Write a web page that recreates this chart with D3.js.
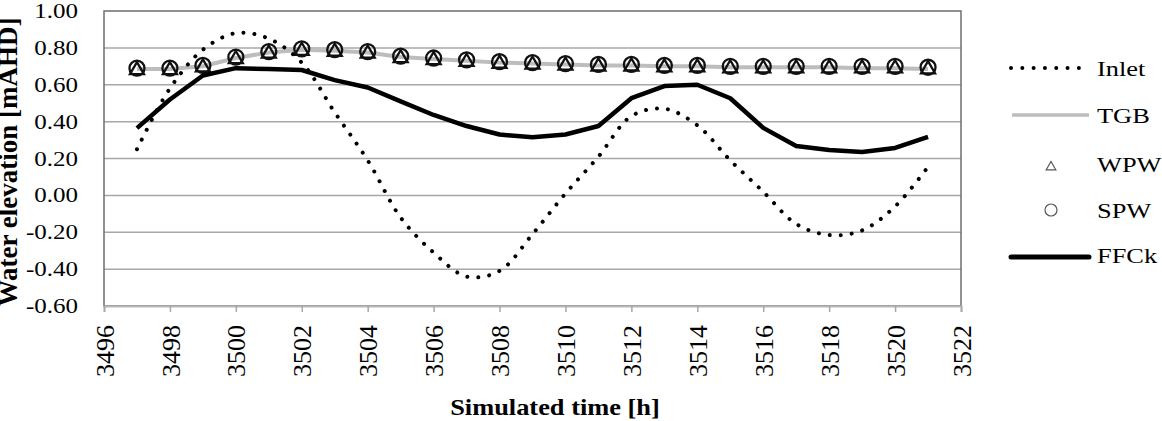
<!DOCTYPE html>
<html>
<head>
<meta charset="utf-8">
<script src="https://cdn.jsdelivr.net/npm/d3@7"></script>
<style>
  body { margin: 0; background: #fff; }
  svg text { font-family: "Liberation Serif", Tinos, "Times New Roman", Times, "DejaVu Serif", serif; fill: #000; }
</style>
</head>
<body>
<div id="chart"></div>
<script>
  // hourly samples
  var hours = d3.range(3497, 3522);

  var inlet = [0.25, 0.58, 0.79, 0.88, 0.85, 0.72, 0.45, 0.19, -0.12, -0.31, -0.44, -0.41, -0.21,
               0.01, 0.21, 0.43, 0.47, 0.38, 0.19, 0.02, -0.155, -0.215, -0.19, -0.06, 0.155];
  var tgb = [0.685, 0.685, 0.70, 0.745, 0.775, 0.79, 0.785, 0.775, 0.75, 0.74, 0.73, 0.72, 0.715,
             0.71, 0.705, 0.705, 0.70, 0.70, 0.695, 0.695, 0.695, 0.695, 0.69, 0.69, 0.685];
  var wpw = [0.69, 0.69, 0.705, 0.75, 0.78, 0.795, 0.79, 0.78, 0.755, 0.745, 0.735, 0.725, 0.72,
             0.715, 0.71, 0.71, 0.705, 0.705, 0.70, 0.70, 0.70, 0.70, 0.70, 0.70, 0.695];
  var spw = [0.69, 0.69, 0.705, 0.75, 0.78, 0.795, 0.79, 0.78, 0.755, 0.745, 0.735, 0.725, 0.72,
             0.715, 0.71, 0.71, 0.705, 0.705, 0.70, 0.70, 0.70, 0.70, 0.70, 0.70, 0.695];
  var ffck = [0.365, 0.52, 0.65, 0.69, 0.685, 0.68, 0.625, 0.585, 0.51, 0.436, 0.376, 0.33, 0.315,
              0.33, 0.376, 0.527, 0.593, 0.60, 0.527, 0.366, 0.268, 0.246, 0.235, 0.257, 0.317];

  var yTicks = [1.0, 0.8, 0.6, 0.4, 0.2, 0.0, -0.2, -0.4, -0.6];
  var xTicks = d3.range(3496, 3523, 2);
  var legendNames = ["Inlet", "TGB", "WPW", "SPW", "FFCk"];

  var width = 1162, height = 421;
  var plotL = 104, plotR = 961, plotT = 11, plotB = 306;

  var x = d3.scaleLinear().domain([3496, 3522]).range([plotL, plotR]);
  var y = d3.scaleLinear().domain([-0.6, 1.0]).range([plotB, plotT]);

  var svg = d3.select("#chart").append("svg")
    .attr("width", width)
    .attr("height", height);

  /* grid */
  svg.append("g").selectAll("line")
    .data(yTicks.slice(1, -1)).enter()
    .append("line")
    .attr("x1", plotL).attr("x2", plotR)
    .attr("y1", d => y(d)).attr("y2", d => y(d))
    .style("stroke", "#a8a8a8")
    .style("stroke-width", 1.5);

  /* plot frame */
  svg.append("rect")
    .attr("x", plotL).attr("y", plotT)
    .attr("width", plotR - plotL).attr("height", plotB - plotT)
    .style("fill", "none")
    .style("stroke", "#6e6e6e")
    .style("stroke-width", 1.5);

  /* x axis */
  var xAxis = d3.axisBottom(x).tickValues(xTicks).tickSize(6).tickFormat(d3.format("d"));
  var gx = svg.append("g")
    .attr("transform", `translate(0, ${plotB})`)
    .call(xAxis);
  gx.attr("font-family", null);
  gx.select(".domain").style("stroke", "#b8b8b8").style("stroke-width", 2);
  gx.selectAll(".tick line").style("stroke", "#a8a8a8").style("stroke-width", 1.5);
  gx.selectAll(".tick text")
    .attr("transform", "translate(0, 19) rotate(-90)")
    .attr("x", 0).attr("y", 0).attr("dy", "0.35em")
    .attr("text-anchor", "end")
    .style("font-size", "26px");

  /* y labels (plain hyphen, as in the original) */
  svg.append("g").selectAll("text")
    .data(yTicks).enter()
    .append("text")
    .attr("transform", d => `translate(78, ${y(d)}) scale(1.25, 1)`)
    .attr("dy", "0.35em")
    .attr("text-anchor", "end")
    .style("font-size", "20px")
    .text(d => d.toFixed(2));

  /* axis titles */
  svg.append("text")
    .attr("transform", "translate(17, 162) rotate(-90)")
    .attr("text-anchor", "middle")
    .style("font-size", "27px")
    .style("font-weight", "bold")
    .text("Water elevation [mAHD]");

  svg.append("text")
    .attr("transform", "translate(555, 415) scale(1.1, 1)")
    .attr("text-anchor", "middle")
    .style("font-size", "24px")
    .style("font-weight", "bold")
    .text("Simulated time [h]");

  /* series */
  function pts(vals) { return hours.map((h, i) => ({h: h, v: vals[i]})); }

  var straight = d3.line().x(d => x(d.h)).y(d => y(d.v));
  var smooth = d3.line().curve(d3.curveCatmullRom.alpha(0.5)).x(d => x(d.h)).y(d => y(d.v));

  svg.append("path")
    .attr("d", straight(pts(tgb)))
    .style("fill", "none")
    .style("stroke", "#bdbdbd")
    .style("stroke-width", 4);

  var tri = d3.symbol().type(d3.symbolTriangle).size(85);

  svg.append("g").selectAll("path")
    .data(pts(wpw)).enter()
    .append("path")
    .attr("d", tri)
    .attr("transform", d => `translate(${x(d.h)}, ${y(d.v) + 2})`)
    .style("fill", "none")
    .style("stroke", "#111")
    .style("stroke-width", 2.3);

  svg.append("g").selectAll("circle")
    .data(pts(spw)).enter()
    .append("circle")
    .attr("cx", d => x(d.h))
    .attr("cy", d => y(d.v))
    .attr("r", 7.5)
    .style("fill", "none")
    .style("stroke", "#111")
    .style("stroke-width", 2.3);

  svg.append("path")
    .attr("d", straight(pts(ffck)))
    .style("fill", "none")
    .style("stroke", "#000")
    .style("stroke-width", 4.5)
    .style("stroke-linejoin", "round");

  svg.append("path")
    .attr("d", smooth(pts(inlet)))
    .style("fill", "none")
    .style("stroke", "#000")
    .style("stroke-width", 4)
    .style("stroke-linecap", "round")
    .style("stroke-dasharray", "0.01 11");

  /* legend */
  var lg = svg.append("g");
  var rowY = [68, 115, 167, 210, 257];
  var textY = [76, 123, 172, 218, 263];

  lg.selectAll("text")
    .data(legendNames).enter()
    .append("text")
    .attr("transform", (d, i) => `translate(1097, ${textY[i]}) scale(1.2, 1)`)
    .style("font-size", "22px")
    .text(d => d);

  lg.append("line")
    .attr("x1", 1011).attr("x2", 1080)
    .attr("y1", rowY[0]).attr("y2", rowY[0])
    .style("stroke", "#000").style("stroke-width", 4)
    .style("stroke-linecap", "round")
    .style("stroke-dasharray", "0.01 11.3");

  lg.append("line")
    .attr("x1", 1012).attr("x2", 1089)
    .attr("y1", rowY[1]).attr("y2", rowY[1])
    .style("stroke", "#bdbdbd").style("stroke-width", 3.5);

  lg.append("path")
    .attr("d", d3.symbol().type(d3.symbolTriangle).size(40))
    .attr("transform", `translate(1051, ${rowY[2]})`)
    .style("fill", "none").style("stroke", "#555").style("stroke-width", 1.2);

  lg.append("circle")
    .attr("cx", 1051).attr("cy", rowY[3]).attr("r", 6)
    .style("fill", "none").style("stroke", "#555").style("stroke-width", 1.2);

  lg.append("line")
    .attr("x1", 1011).attr("x2", 1089)
    .attr("y1", rowY[4]).attr("y2", rowY[4])
    .style("stroke", "#000").style("stroke-width", 5)
    .style("stroke-linecap", "round");
</script>
</body>
</html>
